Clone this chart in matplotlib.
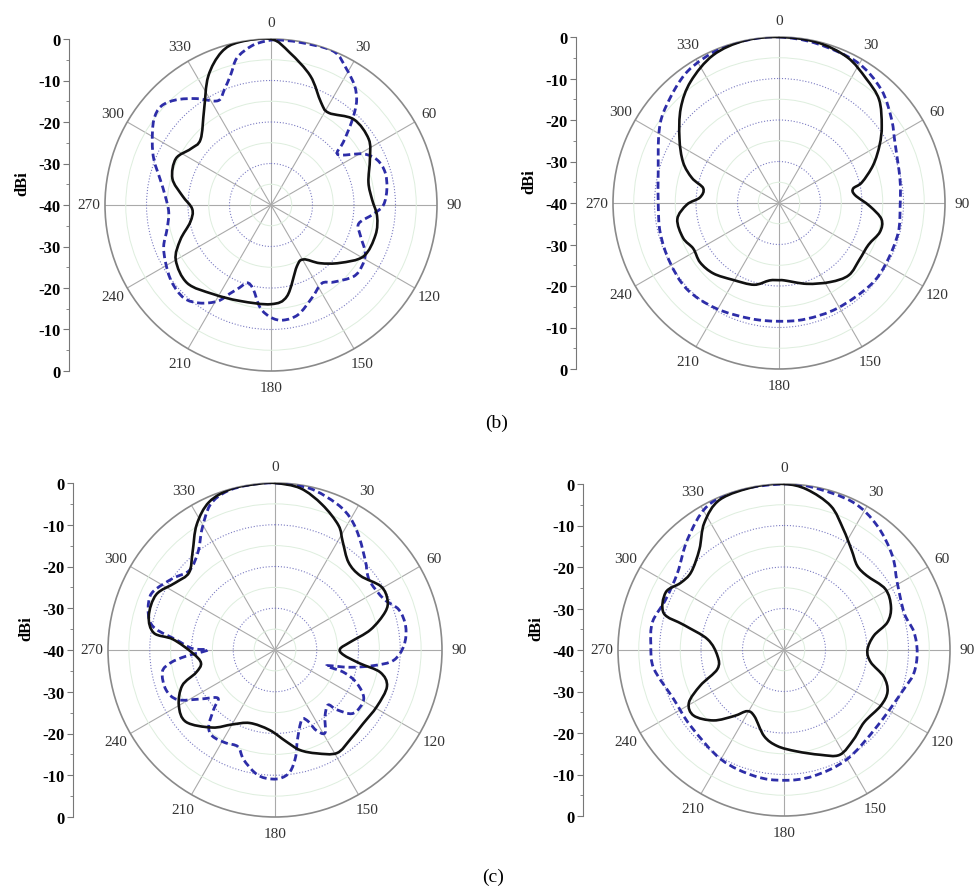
import matplotlib.pyplot as plt
import numpy as np
from matplotlib.path import Path
from matplotlib.patches import PathPatch
from matplotlib.ticker import MultipleLocator

plt.rcParams['font.family'] = ['Liberation Serif', 'DejaVu Serif']

# ---- pattern data: angle (deg, clockwise from 0) and gain (dBi) ----
# (b) left
bl_solid_deg = [0, 7, 17, 26, 32, 44, 56, 65, 77, 87, 96, 106, 119, 130, 140, 149, 157, 170, 180,
                198, 213, 227, 240, 249, 258, 267, 276, 285, 296, 305, 313, 325, 334, 342, 349]
bl_solid_db = [0, -3.0, -7.5, -12.5, -13.8, -11.3, -11.6, -13.7, -15.9, -15.6, -14.3, -13.8, -14.5,
               -18.3, -21.7, -24.7, -24.0, -17.7, -16.1, -15.7, -14.4, -12.4, -13.5, -16.6, -20.1,
               -21.0, -18.5, -15.4, -14.5, -16.4, -16.8, -11.9, -5.5, -1.3, 0]
bl_dash_deg = [2, 10, 22, 29, 35, 39, 42, 45, 49, 53, 61, 67, 74, 82, 90, 95, 102, 109, 117, 124,
               131, 141, 147, 156, 166, 174, 180, 186, 192, 197, 201, 205, 209, 216, 223, 232, 241,
               249, 257, 266, 275, 283, 291, 298, 306, 312, 318, 325, 333, 338, 343, 347, 353, 358]
bl_dash_db = [-0.2, -0.2, 0, -2.5, -4.9, -7.2, -9.9, -13.0, -16.9, -19.8, -14.6, -12.2, -11.4,
              -11.8, -12.9, -15.2, -18.4, -17.2, -14.5, -13.6, -13.7, -16.1, -17.5, -15.6, -12.8,
              -12.1, -12.9, -15.1, -19.3, -20.4, -18.6, -16.4, -13.5, -10.8, -9.3, -9.7, -11.0,
              -12.3, -14.3, -15.3, -14.4, -12.6, -9.8, -7.6, -5.1, -4.4, -5.9, -8.7, -11.8, -10.0,
              -7.0, -3.6, -1.4, -0.5]

# (b) right
br_solid_deg = [0, 13, 25, 35, 44, 53, 60, 68, 76, 79, 84, 92, 99, 106, 115, 125, 136, 147, 161,
                176, 180, 187, 197, 211, 223, 233, 242, 250, 261, 269, 274, 281, 286, 293, 303,
                314, 324, 336, 348]
br_solid_db = [0, -0.2, -1.2, -3.4, -5.3, -9.0, -12.0, -15.5, -19.4, -21.8, -21.6, -18.1, -15.0,
               -14.7, -16.2, -16.3, -15.8, -17.3, -19.4, -21.3, -21.4, -21.2, -19.4, -18.4, -16.8,
               -16.2, -16.6, -15.4, -15.2, -17.8, -20.9, -21.4, -18.2, -14.9, -11.4, -7.1, -3.8,
               -1.0, 0]
br_dash_deg = [0, 13, 29, 42, 53, 62, 79, 91, 104, 119, 132, 151, 167, 180, 194, 211, 227, 242,
               256, 269, 284, 301, 311, 325, 339, 350]
br_dash_db = [0, -0.5, -1.2, -3.2, -6.1, -8.4, -10.3, -10.8, -10.4, -10.4, -10.4, -11.0, -11.3,
              -11.5, -11.3, -10.4, -9.6, -10.1, -10.5, -10.9, -10.0, -6.3, -4.1, -1.4, -0.2, 0]

# (c) left
cl_solid_deg = [0, 9, 18, 27, 32, 40, 49, 59, 66, 71, 78, 84, 89, 94, 99, 102, 108, 119, 130, 140,
                149, 158, 166, 173, 184, 199, 210, 219, 231, 240, 249, 254, 260, 268, 276, 278,
                285, 295, 304, 312, 320, 328, 336, 345, 354]
cl_solid_db = [0, -0.8, -3.4, -6.5, -9.4, -12.6, -12.9, -10.4, -10.5, -12.1, -16.6, -21.9, -24.4,
               -23.6, -19.4, -14.2, -11.8, -12.1, -12.5, -12.0, -11.2, -13.3, -15.3, -17.9, -20.8,
               -21.5, -19.4, -16.1, -12.6, -13.4, -16.2, -20.3, -22.0, -20.2, -15.4, -10.7, -8.7,
               -8.6, -11.2, -12.3, -9.3, -4.6, -1.2, 0, 0]
cl_dash_deg = [0, 12, 23, 30, 37, 46, 50, 55, 65, 72, 80, 88, 95, 99, 103, 107, 108, 112, 119, 129,
               134, 136, 143, 149, 153, 155, 159, 166, 169, 173, 178, 184, 189, 196, 201, 208,
               216, 221, 226, 230, 237, 243, 250, 259, 263, 266, 270, 271, 276, 280, 284, 291,
               296, 305, 313, 322, 329, 336, 343, 351]
cl_dash_db = [0, -0.4, -2.0, -3.7, -6.4, -9.8, -11.2, -12.0, -11.2, -8.8, -8.2, -9.1, -11.5, -16.1,
              -21.6, -27.1, -22.7, -18.9, -15.7, -15.9, -19.4, -21.7, -20.1, -16.8, -18.5, -21.1,
              -22.1, -17.8, -14.0, -10.6, -9.2, -9.2, -10.1, -12.7, -15.2, -14.8, -14.5, -15.8,
              -19.6, -22.1, -18.4, -13.8, -12.2, -12.5, -14.8, -18.6, -23.9, -20.2, -16.1, -11.0,
              -8.9, -7.6, -7.7, -10.1, -12.0, -10.1, -6.1, -1.9, -0.3, 0]

# (c) right
cr_solid_deg = [0, 8, 18, 26, 34, 41, 48, 59, 68, 75, 81, 90, 98, 105, 112, 120, 132, 142, 152,
                161, 173, 184, 193, 204, 211, 217, 225, 234, 241, 247, 254, 265, 278, 284, 287,
                296, 303, 310, 320, 328, 337, 350]
cr_solid_db = [0, -0.9, -3.5, -7.5, -10.9, -13.1, -13.2, -11.5, -12.2, -14.2, -18.1, -19.9, -18.9,
               -15.1, -13.1, -13.1, -14.0, -12.7, -11.4, -13.3, -15.4, -16.8, -18.7, -22.5, -22.8,
               -20.1, -16.0, -13.1, -13.8, -18.1, -23.3, -23.9, -21.4, -15.2, -9.7, -8.3, -10.3,
               -10.8, -8.3, -3.8, -0.6, 0]
cr_dash_deg = [0, 10, 25, 37, 49, 59, 73, 82, 91, 100, 108, 129, 150, 167, 180, 193, 210, 231,
               246, 262, 272, 282, 293, 306, 319, 332, 345]
cr_dash_db = [0, -0.2, -0.7, -2.6, -5.4, -8.2, -9.7, -8.4, -7.9, -8.2, -9.6, -11.0, -9.6, -8.8,
              -8.6, -8.8, -9.6, -11.0, -10.9, -8.3, -7.9, -7.6, -9.0, -8.3, -4.6, -0.7, 0]

angle_labels = [str(a) for a in range(0, 360, 30)]
db_ticks = [-40, -30, -20, -10, 0, 10, 20, 30, 40]
db_labels = ['0', '-10', '-20', '-30', '-40', '-30', '-20', '-10', '0']

R_MIN = -40
W, H = 974, 887
fig = plt.figure(figsize=(W / 100, H / 100), dpi=100)


def smooth_loop(deg, db):
    # closed Catmull-Rom curve through the points, written as cubic Bezier
    # segments; control points are built in x/y and mapped back to (theta, r)
    th = np.deg2rad(deg)
    rr = np.asarray(db) - R_MIN
    P = np.column_stack([rr * np.sin(th), rr * np.cos(th)])
    n = len(P)
    verts = [P[0]]
    codes = [Path.MOVETO]
    for i in range(n):
        p0, p1, p2, p3 = P[i - 1], P[i], P[(i + 1) % n], P[(i + 2) % n]
        verts += [p1 + (p2 - p0) / 6, p2 - (p3 - p1) / 6, p2]
        codes += [Path.CURVE4] * 3
    verts = np.array(verts)
    t = np.arctan2(verts[:, 0], verts[:, 1])
    r = np.hypot(verts[:, 0], verts[:, 1]) + R_MIN
    return Path(np.column_stack([t, r]), codes)


def pattern(cx, cy, R, axis_x, solid, dashed):
    # polar plot, pixel centre / radius -> figure fractions
    ax = fig.add_axes([(cx - R) / W, (H - cy - R) / H, 2 * R / W, 2 * R / H], projection='polar')
    ax.set_theta_zero_location('N')
    ax.set_theta_direction(-1)
    ax.set_ylim(R_MIN, 0)
    ax.set_xticks(np.deg2rad(np.arange(0, 360, 30)))
    ax.set_xticklabels(angle_labels, fontsize=11, color='#333333')
    ax.set_xticks(np.deg2rad(np.arange(15, 360, 30)), minor=True)
    ax.set_yticks([-30, -20, -10])
    ax.set_yticks([-35, -25, -15, -5], minor=True)
    ax.set_yticklabels([])
    ax.tick_params(axis='y', which='both', length=0)
    ax.tick_params(axis='x', which='major', length=0, pad=5)
    ax.tick_params(axis='x', which='minor', length=4, direction='in', color='#888888')
    ax.xaxis.grid(True, which='major', color='#aaaaaa', lw=0.8, ls='-')
    ax.yaxis.grid(True, which='major', color='#7b7bc2', lw=0.8, ls=':')
    ax.yaxis.grid(True, which='minor', color='#deeede', lw=0.7, ls='-')
    ax.spines['polar'].set_color('#8a8a8a')
    ax.spines['polar'].set_linewidth(1.2)

    ax.add_patch(PathPatch(smooth_loop(*dashed), fill=False, edgecolor='#2d2da8', lw=2.0,
                           ls=(0, (2.6, 1.4)), zorder=3))
    ax.add_patch(PathPatch(smooth_loop(*solid), fill=False, edgecolor='#111111', lw=1.9,
                           zorder=4))

    # linear dBi scale on the left
    lax = fig.add_axes([axis_x / W, (H - cy - R) / H, 0.0005, 2 * R / H])
    lax.set_ylim(-40, 40)
    lax.set_xticks([])
    for s in ['top', 'right', 'bottom']:
        lax.spines[s].set_visible(False)
    lax.spines['left'].set_color('#777777')
    lax.set_yticks(db_ticks)
    lax.set_yticklabels(db_labels, fontweight='bold', fontsize=12)
    lax.yaxis.set_minor_locator(MultipleLocator(5))
    lax.tick_params(axis='y', which='major', length=4, width=0.8, color='#777777', pad=2)
    lax.tick_params(axis='y', which='minor', length=2.5, width=0.7, color='#888888')
    fig.text((axis_x - 47) / W, (H - cy + 22) / H, 'dBi', rotation=90, ha='center', va='center',
             fontweight='bold', fontsize=12)


pattern(271, 206, 166, 69, (bl_solid_deg, bl_solid_db), (bl_dash_deg, bl_dash_db))
pattern(779, 204, 166, 576, (br_solid_deg, br_solid_db), (br_dash_deg, br_dash_db))
pattern(275, 651, 167, 73, (cl_solid_deg, cl_solid_db), (cl_dash_deg, cl_dash_db))
pattern(784, 651, 166, 583, (cr_solid_deg, cr_solid_db), (cr_dash_deg, cr_dash_db))

fig.text(497 / W, (H - 423) / H, '(b)', ha='center', va='center', fontsize=14)
fig.text(493 / W, (H - 877) / H, '(c)', ha='center', va='center', fontsize=14)

fig.savefig('out.png', dpi=100)
